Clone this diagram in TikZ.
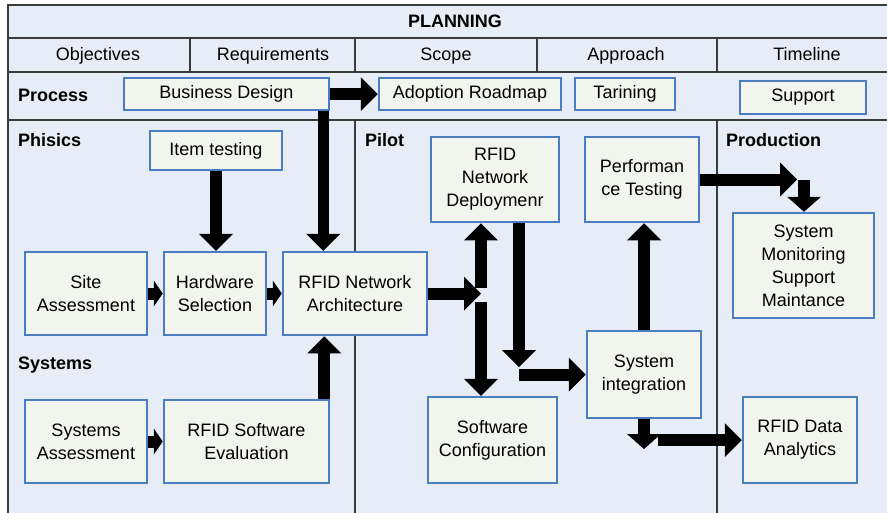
\documentclass[tikz,border=0pt]{standalone}
\usepackage{fontspec}
\setmainfont{Liberation Sans}
\usetikzlibrary{arrows.meta}
\definecolor{bg}{HTML}{E7EDF7}
\definecolor{boxfill}{HTML}{F2F4EE}
\definecolor{boxline}{HTML}{4A7DC2}
\definecolor{frameline}{HTML}{3A3A3A}
\newcommand{\boxfont}{\fontsize{18}{23}\selectfont}
\begin{document}
\begin{tikzpicture}[x=1pt,y=-1pt,
  box/.style={draw=boxline, fill=boxfill, line width=2.5pt, align=center, inner sep=0pt, font=\boxfont},
  head/.style={anchor=west, inner sep=0pt, text height=12.9pt, text depth=0pt, font=\boxfont\bfseries},
  lab/.style={inner sep=0pt, text height=12.9pt, text depth=0pt, font=\boxfont},
  rule/.style={draw=frameline, line width=1.1pt},
  barrow/.style={line width=12pt, -{Triangle[length=17pt,width=34pt,line width=0pt]}},
  sarrow/.style={line width=12pt, -{Triangle[length=9pt,width=26pt,line width=0pt]}}]
\useasboundingbox (0,0) rectangle (887,512);
\clip (0,0) rectangle (887,512);
% frame
\fill[bg] (8,5) rectangle (900,520);
\draw[rule] (8,5) rectangle (900,520);
\draw[rule] (8,38) -- (900,38);
\draw[rule] (8,72) -- (900,72);
\draw[rule] (8,120) -- (900,120);
\draw[rule] (190,38) -- (190,72);
\draw[rule] (355,38) -- (355,72);
\draw[rule] (537,38) -- (537,72);
\draw[rule] (717,38) -- (717,72);
\draw[rule] (355,120) -- (355,520);
\draw[rule] (717,120) -- (717,520);
% headers
\node[lab, font=\boxfont\bfseries] (planning) at (455,21.5) {PLANNING};
\node[lab] (obj) at (98,54.5) {Objectives};
\node[lab] (req) at (273,54.5) {Requirements};
\node[lab] (scope) at (446,54.5) {Scope};
\node[lab] (appr) at (626,54.5) {Approach};
\node[lab] (time) at (807,54.5) {Timeline};
\node[head] (process) at (18,95.5) {Process};
\node[head] (phisics) at (18,140) {Phisics};
\node[head] (pilot) at (365,140) {Pilot};
\node[head] (production) at (726,140) {Production};
\node[head] (systems) at (18,363.5) {Systems};
% boxes
\node[box, minimum width=205pt, minimum height=32pt] (BD) at (226.5,94) {Business Design};
\node[box, minimum width=182pt, minimum height=32pt] (AR) at (470,94) {Adoption Roadmap};
\node[box, minimum width=100pt, minimum height=32pt] (TR) at (625,94) {Tarining};
\node[box, minimum width=126pt, minimum height=33pt] (SP) at (803,97.5) {Support};
\node[box, minimum width=132pt, minimum height=39pt] (IT) at (216,150.5) {Item testing};
\node[box, minimum width=122pt, minimum height=83pt] (SA) at (86,293.5) {Site\\Assessment};
\node[box, minimum width=102pt, minimum height=83pt] (HS) at (215,293.5) {Hardware\\Selection};
\node[box, minimum width=144pt, minimum height=83pt] (RNA) at (355,293.5) {RFID Network\\Architecture};
\node[box, minimum width=122pt, minimum height=83pt] (SysA) at (86,441.5) {Systems\\Assessment};
\node[box, minimum width=165pt, minimum height=83pt] (RSE) at (246.5,441.5) {RFID Software\\Evaluation};
\node[box, minimum width=128pt, minimum height=85pt] (RND) at (495,179.5) {RFID\\Network\\Deploymenr};
\node[box, minimum width=114pt, minimum height=85pt] (PT) at (642,179.5) {Performan\\ce Testing};
\node[box, minimum width=114pt, minimum height=87pt] (SI) at (644,374.5) {System\\integration};
\node[box, minimum width=129pt, minimum height=86pt] (SC) at (492.5,440) {Software\\Configuration};
\node[box, minimum width=141pt, minimum height=105pt] (SM) at (803.5,265.5) {System\\Monitoring\\Support\\Maintance};
\node[box, minimum width=114pt, minimum height=86pt] (RDA) at (800,440) {RFID Data\\Analytics};
% coordinates
\coordinate (bdx) at ([xshift=-7pt]BD.south east);
\coordinate (rsex) at ([xshift=-6pt]RSE.north east);
\coordinate (sp) at (481,293.5);
\coordinate (up0) at (481,288);
\coordinate (dn0) at (481,302);
\coordinate (k1) at (519,367);
\coordinate (k2) at (519,374.5);
\coordinate (k3) at (797,179.5);
\coordinate (k4) at (804,179.5);
\coordinate (k5) at (644,449);
\coordinate (k6) at (658,440);
% arrows
\draw[barrow] (BD.east) -- (AR.west);
\draw[barrow, line width=11pt] (bdx) -- (bdx |- RNA.north);
\draw[barrow] (IT.south) -- (IT.south |- HS.north);
\draw[sarrow] (SA.east) -- (HS.west);
\draw[sarrow] (HS.east) -- (RNA.west);
\draw[sarrow] (SysA.east) -- (RSE.west);
\draw[barrow] (rsex) -- (rsex |- RNA.south);
\draw[barrow] (RNA.east) -- (sp);
\draw[barrow] (up0) -- (up0 |- RND.south);
\draw[barrow] (dn0) -- (dn0 |- SC.north);
\draw[barrow] (RND.south -| k1) -- (k1);
\draw[barrow] (k2) -- (k2 -| SI.west);
\draw[barrow] (SI.north) -- (SI.north |- PT.south);
\draw[barrow] (PT.east) -- (k3);
\draw[barrow, -{Triangle[length=15pt,width=34pt,line width=0pt]}] (k4) -- (k4 |- SM.north);
\draw[barrow, -{Triangle[length=15pt,width=34pt,line width=0pt]}] (SI.south) -- (k5);
\draw[barrow] (k6) -- (RDA.west);
\end{tikzpicture}
\end{document}
